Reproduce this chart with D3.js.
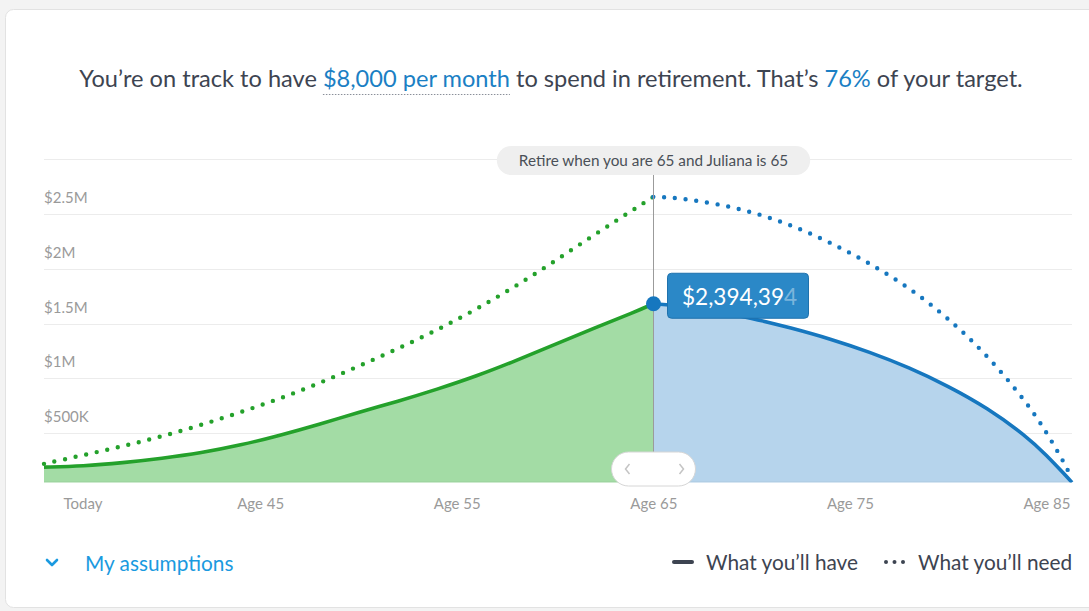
<!DOCTYPE html>
<html>
<head>
<meta charset="utf-8">
<script src="https://cdn.jsdelivr.net/npm/d3@7"></script>
<style>
  html, body { margin: 0; padding: 0; background: #f3f3f3; }
  body { width: 1089px; height: 611px; overflow: hidden; font-family: Lato, "Open Sans", sans-serif; }
</style>
</head>
<body>
<svg id="chart"></svg>
<script>
// ages (years) and balances (millions of dollars)
var preAges  = [34, 36, 38, 40, 42, 44, 46, 48, 50, 52, 54, 56, 58, 60, 62, 64, 65];
var preHave  = [0.19, 0.20, 0.23, 0.27, 0.32, 0.39, 0.48, 0.58, 0.69, 0.79, 0.90, 1.02, 1.16, 1.31, 1.46, 1.60, 1.68];
var preNeed  = [0.22, 0.30, 0.38, 0.47, 0.575, 0.69, 0.815, 0.955, 1.11, 1.27, 1.44, 1.63, 1.84, 2.07, 2.31, 2.54, 2.655];

var postAges = [65, 66, 68, 70, 72, 74, 76, 78, 80, 82, 84, 85, 86, 86.3];
var postHave = [1.68, 1.67, 1.62, 1.55, 1.46, 1.36, 1.24, 1.10, 0.93, 0.73, 0.47, 0.30, 0.11, 0.05];
var postNeed = [2.655, 2.65, 2.60, 2.52, 2.40, 2.24, 2.05, 1.83, 1.55, 1.21, 0.78, 0.51, 0.20, 0.08];

var yTicks = [0.5, 1, 1.5, 2, 2.5, 3];
var yTickLabels = ["$500K", "$1M", "$1.5M", "$2M", "$2.5M", ""];
var xTicks = [34, 45, 55, 65, 75, 85];
var xTickLabels = ["Today", "Age 45", "Age 55", "Age 65", "Age 75", "Age 85"];

var retireAge = 65;
var retireLabel = "Retire when you are 65 and Juliana is 65";
var tipValue = "$2,394,39";
var tipCut = "4";

var svgWidth = 1089, svgHeight = 611;
var green = "#24a12b", greenFill = "#a3dca5";
var blue = "#1677bf", blueFill = "#b6d4ec";
var ink = "#3d4451", grey = "#9a9a9a";

var svg = d3.select("#chart").attr("width", svgWidth).attr("height", svgHeight);

// card
svg.append("rect")
  .attr("x", 5.5).attr("y", 9.5).attr("width", 1100).attr("height", 598)
  .attr("rx", 8).attr("fill", "#fff").attr("stroke", "#e2e2e2");

// headline
var head = svg.append("text")
  .attr("x", 551).attr("y", 87)
  .attr("text-anchor", "middle")
  .attr("font-size", 23.6).attr("fill", ink);
head.append("tspan").text("You\u2019re on track to have ");
var hl = head.append("tspan").attr("fill", "#1b7fc4").text("$8,000 per month");
head.append("tspan").text(" to spend in retirement. That\u2019s ");
head.append("tspan").attr("fill", "#1b7fc4").text("76%");
head.append("tspan").text(" of your target.");

var xScale = d3.scaleLinear().domain([34, 86.3]).range([44, 1072]);
var yScale = d3.scaleLinear().domain([0, 3]).range([488, 159]);
var plotBottom = 482.5;

// dotted underline under the highlighted amount
(function() {
  var n = hl.node();
  var start = n.getStartPositionOfChar(0).x;
  var end = n.getEndPositionOfChar(n.getNumberOfChars() - 1).x;
  svg.append("line")
    .attr("x1", start).attr("x2", end).attr("y1", 94.5).attr("y2", 94.5)
    .attr("stroke", "#8a8f99").attr("stroke-width", 1).attr("stroke-dasharray", "1.5 1.5");
})();

// grid
svg.append("g").selectAll("line")
  .data(yTicks).enter().append("line")
  .attr("x1", 44).attr("x2", 1072)
  .attr("y1", function(d) { return Math.round(yScale(d)) + 0.5; })
  .attr("y2", function(d) { return Math.round(yScale(d)) + 0.5; })
  .attr("stroke", "#ececec");

svg.append("g").selectAll("text")
  .data(yTicks).enter().append("text")
  .attr("x", 44)
  .attr("y", function(d) { return yScale(d) - 11; })
  .attr("font-size", 15).attr("fill", grey)
  .text(function(d, i) { return yTickLabels[i]; });

// x labels
var xAxis = d3.axisBottom(xScale)
  .tickValues(xTicks)
  .tickSize(0)
  .tickPadding(0)
  .tickFormat(function(d, i) { return xTickLabels[i]; });
var gx = svg.append("g").attr("transform", "translate(0," + 498 + ")").call(xAxis);
gx.select(".domain").remove();
gx.selectAll("text")
  .attr("font-family", "Lato, sans-serif").attr("font-size", 15).attr("fill", grey)
  .attr("dy", "0.71em");
gx.selectAll(".tick").filter(function(d) { return d === 34; }).select("text")
  .attr("text-anchor", "start").attr("dx", 19);

var clip = svg.append("clipPath").attr("id", "plot");
clip.append("rect").attr("x", 40).attr("y", 140).attr("width", 1040).attr("height", plotBottom - 140);

var pre = preAges.map(function(a, i) { return { age: a, have: preHave[i], need: preNeed[i] }; });
var post = postAges.map(function(a, i) { return { age: a, have: postHave[i], need: postNeed[i] }; });

var curve = d3.curveBasis;
var area = d3.area()
  .curve(curve)
  .x(function(d) { return xScale(d.age); })
  .y0(yScale(0))
  .y1(function(d) { return yScale(d.have); });
var haveLine = d3.line()
  .curve(curve)
  .x(function(d) { return xScale(d.age); })
  .y(function(d) { return yScale(d.have); });
var needLine = d3.line()
  .curve(curve)
  .x(function(d) { return xScale(d.age); })
  .y(function(d) { return yScale(d.need); });

var plot = svg.append("g").attr("clip-path", "url(#plot)");

plot.append("path").datum(pre).attr("d", area).attr("fill", greenFill);
plot.append("path").datum(post).attr("d", area).attr("fill", blueFill);
plot.append("line")
  .attr("x1", 44).attr("x2", 1072).attr("y1", plotBottom - 0.5).attr("y2", plotBottom - 0.5)
  .attr("stroke", "#000").attr("stroke-opacity", 0.06);

plot.append("path").datum(pre).attr("d", needLine)
  .attr("fill", "none").attr("stroke", green).attr("stroke-width", 4.4)
  .attr("stroke-linecap", "round").attr("stroke-dasharray", "0 10.8");
plot.append("path").datum(post).attr("d", needLine)
  .attr("fill", "none").attr("stroke", blue).attr("stroke-width", 4.4)
  .attr("stroke-linecap", "round").attr("stroke-dasharray", "0 10.8");

plot.append("path").datum(pre).attr("d", haveLine)
  .attr("fill", "none").attr("stroke", green).attr("stroke-width", 3.6);
plot.append("path").datum(post).attr("d", haveLine)
  .attr("fill", "none").attr("stroke", blue).attr("stroke-width", 3.6);

// retirement marker
var rx = Math.round(xScale(retireAge)) + 0.5;
svg.append("line")
  .attr("x1", rx).attr("x2", rx).attr("y1", 174).attr("y2", plotBottom)
  .attr("stroke", "#9b9b9b").attr("stroke-width", 1);

var pill = svg.append("g");
var pillText = pill.append("text")
  .attr("x", rx).attr("y", 165.5)
  .attr("text-anchor", "middle").attr("font-size", 15.3).attr("fill", "#4a4f57")
  .text(retireLabel);
var pw = pillText.node().getComputedTextLength() + 44;
pill.insert("rect", "text")
  .attr("x", rx - pw / 2).attr("y", 146).attr("width", pw).attr("height", 29)
  .attr("rx", 14.5).attr("fill", "#efefef");

// value marker and tooltip
var retireHave = preHave[preAges.indexOf(retireAge)];
var py = yScale(retireHave);
svg.append("rect")
  .attr("x", 667.5).attr("y", py - 30.5).attr("width", 141).attr("height", 45)
  .attr("rx", 4).attr("fill", "#2b88c7").attr("stroke", "#1f72ad");
var tip = svg.append("text")
  .attr("x", 682).attr("y", py + 1.5)
  .attr("font-size", 22.6).attr("fill", "#fff");
tip.append("tspan").text(tipValue);
tip.append("tspan").attr("fill-opacity", 0.4).text(tipCut);
svg.append("circle").attr("cx", rx).attr("cy", py).attr("r", 7.5).attr("fill", blue);

// scrub handle
var handle = svg.append("g").attr("transform", "translate(" + rx + ",469)");
handle.append("rect")
  .attr("x", -42).attr("y", -17).attr("width", 84).attr("height", 34).attr("rx", 17)
  .attr("fill", "#fff").attr("stroke", "#d6d6d6");
handle.append("path").attr("d", "M-24,-5 L-28,0 L-24,5")
  .attr("fill", "none").attr("stroke", "#c4c4c4").attr("stroke-width", 1.5);
handle.append("path").attr("d", "M26,-5 L30,0 L26,5")
  .attr("fill", "none").attr("stroke", "#c4c4c4").attr("stroke-width", 1.5);

// footer
svg.append("path").attr("d", "M47,560 L52,565 L57,560")
  .attr("fill", "none").attr("stroke", "#1a9ae0").attr("stroke-width", 2.6)
  .attr("stroke-linecap", "round").attr("stroke-linejoin", "round");
svg.append("text").attr("x", 85).attr("y", 571)
  .attr("font-size", 20.8).attr("fill", "#1a9ae0").text("My assumptions");

svg.append("line").attr("x1", 674).attr("x2", 692).attr("y1", 562).attr("y2", 562)
  .attr("stroke", ink).attr("stroke-width", 4).attr("stroke-linecap", "round");
svg.append("text").attr("x", 706).attr("y", 570)
  .attr("font-size", 20.8).attr("fill", ink).text("What you\u2019ll have");
svg.append("g").selectAll("circle")
  .data([886, 894.5, 903]).enter().append("circle")
  .attr("cx", function(d) { return d; }).attr("cy", 562).attr("r", 2)
  .attr("fill", ink);
svg.append("text").attr("x", 918).attr("y", 570)
  .attr("font-size", 20.8).attr("fill", ink).text("What you\u2019ll need");
</script>
</body>
</html>
